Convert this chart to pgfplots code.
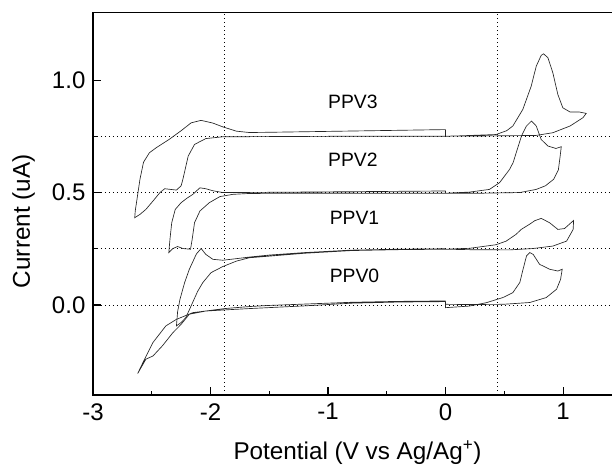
\documentclass[border=0pt]{standalone}
\usepackage{fontspec}
\setmainfont{Liberation Sans}
\usepackage{pgfplots}
\pgfplotsset{compat=1.18}
\usetikzlibrary{calc}

\pgfplotsset{
  cv/.style={line width=0.5pt, color=black!85},
  refline/.style={line width=0.6pt, black, dash pattern=on 0.7pt off 2.3pt, forget plot},
}

\begin{document}
\begin{tikzpicture}
\begin{axis}[
  name=ax,
  scale only axis,
  width=396.6pt, height=286.7pt,
  xmin=-3, xmax=1.5, ymin=-0.4, ymax=1.3,
  xtick={-3,-2,-1,0,1},
  ytick={0,0.5,1.0},
  minor x tick num=1,
  minor y tick num=1,
  xtick pos=bottom, ytick pos=left,
  tick align=inside,
  major tick length=6pt, minor tick length=3pt,
  every tick/.style={black, line width=0.8pt},
  axis line style={line width=0.9pt},
  /pgf/number format/assume math mode=true,
  yticklabel style={/pgf/number format/fixed, /pgf/number format/fixed zerofill, /pgf/number format/precision=1},
  xticklabel style={yshift=-2.8pt},
  yticklabel style={xshift=-2.2pt},
  ticklabel style={font=\fontsize{18}{20}\selectfont},
  clip=false,
]

% dotted reference lines
\addplot[refline] coordinates {(-3,0) (1.5,0)};
\addplot[refline] coordinates {(-3,0.25) (1.5,0.25)};
\addplot[refline] coordinates {(-3,0.5) (1.5,0.5)};
\addplot[refline] coordinates {(-3,0.75) (1.5,0.75)};
\addplot[refline] coordinates {(-1.885,-0.4) (-1.885,1.3)};
\addplot[refline] coordinates {(0.44,-0.4) (0.44,1.3)};

% PPV3
\addplot[cv] coordinates {
(0,0.780) (-0.5,0.776) (-1.0,0.772) (-1.5,0.768) (-1.67,0.767) (-1.78,0.773)
(-1.895,0.792) (-1.98,0.809) (-2.08,0.821) (-2.165,0.810) (-2.25,0.775)
(-2.35,0.737) (-2.46,0.700) (-2.52,0.677) (-2.57,0.635) (-2.60,0.560)
(-2.62,0.490) (-2.64,0.420) (-2.645,0.388) (-2.60,0.403) (-2.55,0.425)
(-2.49,0.462) (-2.43,0.500) (-2.39,0.517) (-2.34,0.514) (-2.29,0.511)
(-2.25,0.530) (-2.235,0.559) (-2.19,0.662) (-2.136,0.714) (-2.04,0.740)
(-1.895,0.748) (-1.0,0.750) (0,0.750) (0.43,0.758) (0.52,0.775) (0.573,0.796)
(0.658,0.870) (0.729,0.973) (0.772,1.062) (0.814,1.110) (0.834,1.117)
(0.871,1.100) (0.913,1.033) (0.956,0.936) (0.998,0.877) (1.06,0.858)
(1.14,0.858) (1.197,0.852) (1.17,0.833) (1.06,0.796) (0.913,0.766)
(0.77,0.754) (0.4,0.752) (0,0.751) (0,0.780)
};

% PPV2
\addplot[cv] coordinates {
(0,0.507) (-0.5,0.505) (-1.0,0.503) (-1.5,0.501) (-1.895,0.500) (-1.98,0.508)
(-2.04,0.517) (-2.09,0.521) (-2.12,0.507) (-2.15,0.492) (-2.20,0.475)
(-2.25,0.455) (-2.30,0.425) (-2.33,0.366) (-2.345,0.292) (-2.355,0.233)
(-2.32,0.251) (-2.28,0.260) (-2.235,0.251) (-2.17,0.248) (-2.156,0.292)
(-2.136,0.366) (-2.09,0.418) (-2.01,0.455) (-1.92,0.482) (-1.81,0.492)
(-1.67,0.496) (-1.0,0.497) (0,0.497) (0.204,0.502) (0.374,0.514) (0.46,0.544)
(0.545,0.603) (0.575,0.633) (0.646,0.751) (0.689,0.796) (0.731,0.818)
(0.772,0.796) (0.814,0.736) (0.871,0.707) (0.94,0.696) (0.985,0.704)
(0.975,0.660) (0.96,0.600) (0.92,0.559) (0.85,0.530) (0.772,0.514)
(0.632,0.500) (0.3,0.497) (0,0.497) (0,0.507)
};

% PPV1
\addplot[cv] coordinates {
(0,0.250) (-0.4,0.248) (-0.8,0.244) (-1.2,0.233) (-1.5,0.222) (-1.67,0.213)
(-1.78,0.206) (-1.895,0.199) (-1.98,0.203) (-2.04,0.225) (-2.08,0.251)
(-2.12,0.227) (-2.18,0.159) (-2.22,0.100) (-2.26,0.025) (-2.28,-0.030)
(-2.29,-0.093) (-2.25,-0.078) (-2.21,-0.056) (-2.165,-0.004) (-2.11,0.060)
(-2.065,0.100) (-1.995,0.144) (-1.895,0.171) (-1.78,0.195) (-1.67,0.210)
(-1.2,0.230) (-0.8,0.242) (-0.4,0.246) (0,0.248) (0.204,0.252) (0.43,0.268)
(0.516,0.284) (0.60,0.314) (0.644,0.336) (0.715,0.359) (0.76,0.375)
(0.814,0.385) (0.885,0.366) (0.956,0.336) (1.013,0.340) (1.06,0.362)
(1.09,0.376) (1.086,0.336) (1.03,0.284) (0.913,0.262) (0.743,0.251)
(0.545,0.245) (0.2,0.246) (0,0.248)
};

% PPV0
\addplot[cv] coordinates {
(0,0.018) (-0.4,0.016) (-0.8,0.012) (-1.2,0.004) (-1.5,-0.002) (-1.67,-0.007)
(-1.88,-0.016) (-2.15,-0.034) (-2.29,-0.064) (-2.38,-0.093) (-2.49,-0.167)
(-2.575,-0.256) (-2.62,-0.305) (-2.55,-0.241) (-2.49,-0.227) (-2.41,-0.182)
(-2.32,-0.123) (-2.25,-0.086) (-2.18,-0.041) (-2.04,-0.027) (-1.88,-0.022)
(-1.67,-0.016) (-1.2,-0.004) (-0.8,0.008) (-0.4,0.013) (0,0.015) (0,-0.012)
(0.2,-0.005) (0.346,0.010) (0.488,0.033) (0.573,0.055) (0.632,0.100)
(0.66,0.159) (0.689,0.218) (0.717,0.233) (0.746,0.225) (0.80,0.181)
(0.885,0.159) (0.956,0.151) (0.993,0.159) (0.979,0.114) (0.945,0.070)
(0.857,0.033) (0.717,0.011) (0.49,0.003) (0.2,0.002) (0,0.003)
};

\node[anchor=base east, inner sep=0pt, font=\fontsize{14.5}{16}\selectfont] at (axis cs:-0.576,0.873) {PPV3};
\node[anchor=base east, inner sep=0pt, font=\fontsize{14.5}{16}\selectfont] at (axis cs:-0.576,0.618) {PPV2};
\node[anchor=base east, inner sep=0pt, font=\fontsize{14.5}{16}\selectfont] at (axis cs:-0.562,0.359) {PPV1};
\node[anchor=base east, inner sep=0pt, font=\fontsize{14.5}{16}\selectfont] at (axis cs:-0.562,0.102) {PPV0};

\node[anchor=base, inner sep=0pt, font=\fontsize{18.2}{20}\selectfont] at (axis cs:-0.749,-0.686) {Potential (V vs Ag/Ag\textsuperscript{+})};
\node[rotate=90, inner sep=0pt, font=\fontsize{18.2}{20}\selectfont] at (axis cs:-3.59,0.372) {Current (uA)};
\end{axis}
\pgfresetboundingbox
\path[use as bounding box] ($(ax.south west)+(-69.75pt,-53.25pt)$) rectangle ($(ax.north west)+(389.25pt,9.5pt)$);
\end{tikzpicture}
\end{document}
